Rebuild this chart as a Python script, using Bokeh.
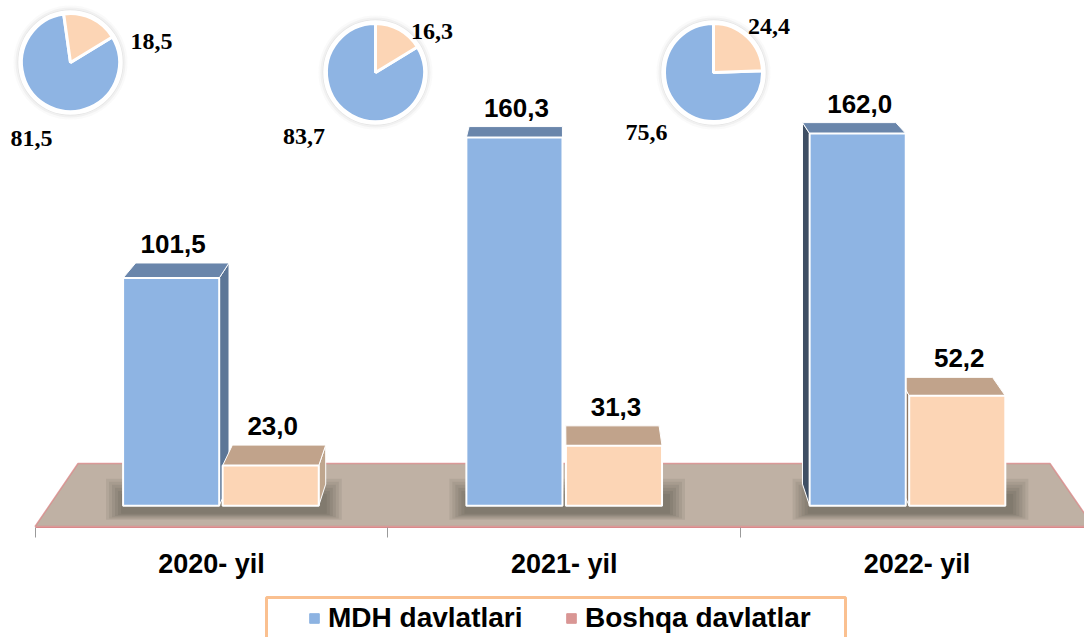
import numpy as np
from bokeh.plotting import figure
from bokeh.layouts import column
from bokeh.models import Range1d, FixedTicker, Legend, LegendItem, ColumnDataSource
from bokeh.core.properties import value
from bokeh.embed import file_html
from bokeh.resources import INLINE

# ---------------- data ----------------
years = ["2020- yil", "2021- yil", "2022- yil"]
series = ["MDH davlatlari", "Boshqa davlatlar"]
mdh = [101.5, 160.3, 162.0]
boshqa = [23.0, 31.3, 52.2]
mdh_share = [81.5, 83.7, 75.6]
boshqa_share = [18.5, 16.3, 24.4]

def fmt(v):
    return f"{v:.1f}".replace(".", ",")

# ---------------- layout / style ----------------
W, H = 1084, 587          # main chart; legend strip below
LEG_H = 50
FRAME_BOTTOM = 527
XPX, X0 = 352.8, 34.6      # px per category, canvas x of first category boundary
YPX, Y0 = 2.455, 541.2     # px per unit, canvas y of 0

def xd(px):
    return (px - X0) / XPX - 0.5

def yd(py):
    return (Y0 - py) / YPX

VPX, VPY = xd(560), yd(-245)       # vanishing point of the 3D view
FLOOR_Y = yd(526)
FLOOR_DEPTH = 0.0817
D0, D1 = 0.027, 0.055
HALF, GAP = 0.285, 0.005

def proj(x, y, t):
    return x + t * (VPX - x), y + t * (VPY - y)

FRONT = ["#8EB4E3", "#FCD5B5"]
TOP = ["#6A86AB", "#C1A38B"]
SIDE_R = ["#5C7697", "#BFA68E"]
SIDE_L = ["#3F4F64", "#8C7664"]
LEGEND_COL = ["#8DB3E2", "#D99694"]
FLOOR_COL = "#BFB1A4"
EDGE_COL = "#D9898A"
LEGEND_BORDER = "#FAC090"

p = figure(width=W, height=H, output_backend="svg", toolbar_location=None,
           x_range=Range1d(xd(0), xd(W)), y_range=Range1d(yd(FRAME_BOTTOM), yd(0)),
           x_axis_location="below", y_axis_location=None,
           min_border_left=0, min_border_right=0, min_border_top=0,
           min_border_bottom=H - FRAME_BOTTOM)
p.xgrid.visible = False
p.ygrid.visible = False
p.outline_line_color = None
p.background_fill_color = "white"
p.border_fill_color = "white"

# ---------------- floor ----------------
fx, fy = [], []
for (x, t) in [(-0.5, 0), (2.5, 0), (2.5, FLOOR_DEPTH), (-0.5, FLOOR_DEPTH)]:
    a, b = proj(x, FLOOR_Y, t)
    fx.append(a); fy.append(b)
p.patch(fx, fy, fill_color=FLOOR_COL, line_color=EDGE_COL, line_width=1.5, line_alpha=0.8)

# ---------------- shadows under bar groups ----------------
for i in range(3):
    lx, by = proj(i - HALF, FLOOR_Y, D0)
    rx, _ = proj(i + HALF, FLOOR_Y, D0)
    for k in range(6):
        p.quad(left=lx - (2 + 3 * k) / XPX, right=rx + (8 + 3 * k) / XPX,
               bottom=by - (8 + 1.2 * k) / YPX, top=by + (12 + 3 * k) / YPX,
               fill_color="#3a3330", fill_alpha=0.09, line_color=None)

# ---------------- 3D bars ----------------
bars = []
for i in range(3):
    for s, vals in enumerate([mdh, boshqa]):
        xl = i - HALF + s * (HALF + GAP)
        xr = xl + HALF - GAP
        bars.append((i, s, xl, xr, vals[i]))
bars.sort(key=lambda b: -abs((b[2] + b[3]) / 2 - VPX))

pxs, pys, pcol, plw = [], [], [], []
def add_poly(pts, col, lw):
    pxs.append([q[0] for q in pts]); pys.append([q[1] for q in pts])
    pcol.append(col); plw.append(lw)

for (i, s, xl, xr, v) in bars:
    cx = (xl + xr) / 2
    if cx < VPX:
        xs_, scol = xr, SIDE_R[s]
    else:
        xs_, scol = xl, SIDE_L[s]
    add_poly([proj(xs_, FLOOR_Y, D0), proj(xs_, v, D0), proj(xs_, v, D1), proj(xs_, FLOOR_Y, D1)], scol, 1)
    add_poly([proj(xl, v, D0), proj(xr, v, D0), proj(xr, v, D1), proj(xl, v, D1)], TOP[s], 1)
    add_poly([proj(xl, FLOOR_Y, D0), proj(xr, FLOOR_Y, D0), proj(xr, v, D0), proj(xl, v, D0)], FRONT[s], 2)

p.patches(xs="xs", ys="ys", fill_color="c", line_color="white", line_width="lw",
          source=ColumnDataSource(dict(xs=pxs, ys=pys, c=pcol, lw=plw)))

# value labels
lx_, ly_, lt_ = [], [], []
for (i, s, xl, xr, v) in bars:
    cx, _ = proj((xl + xr) / 2, v, D0)
    _, ty = proj(xl, v, D1)
    lx_.append(cx + 2 / XPX); ly_.append(ty + 19 / YPX); lt_.append(fmt(v))
p.text(x=lx_, y=ly_, text=lt_, text_font=value("Liberation Sans"), text_font_style="bold",
       text_font_size="26px", text_align="center", text_baseline="middle", text_color="black")

# ---------------- pies ----------------
PIE_C = [(70, 62), (375, 72), (713, 72)]          # canvas px
PIE_R = 49
PIE_START = [-8, 0, 0]                             # clock degrees of the small slice
LBL_OFF_SMALL = [(81, -21), (56.5, -41.5), (55.5, -46)]
LBL_OFF_BIG = [(-39, 75.5), (-71.5, 64), (-67, 59.5)]

for i in range(3):
    cxp, cyp = PIE_C[i]
    x, y = xd(cxp), yd(cyp)
    for k, (r, a) in enumerate([(57, 0.03), (55, 0.05), (53, 0.08)]):
        p.scatter([x], [y], size=2 * r, marker="circle", fill_color="#555555",
                  fill_alpha=a, line_color=None)
    frac = boshqa_share[i] / (boshqa_share[i] + mdh_share[i])
    a0 = PIE_START[i]
    a1 = a0 + 360 * frac
    p.wedge(x=[x], y=[y], radius=PIE_R, radius_units="screen",
            start_angle=np.radians(90 - a1), end_angle=np.radians(90 - a0 - 360),
            direction="clock", fill_color=FRONT[0], line_color="white", line_width=3)
    p.wedge(x=[x], y=[y], radius=PIE_R, radius_units="screen",
            start_angle=np.radians(90 - a0), end_angle=np.radians(90 - a1),
            direction="clock", fill_color=FRONT[1], line_color="white", line_width=3)
    p.scatter([x], [y], size=2 * PIE_R + 3, marker="circle", fill_color=None,
              line_color="white", line_width=3.5)
    sx, sy = LBL_OFF_SMALL[i]
    bx, byy = LBL_OFF_BIG[i]
    p.text(x=[xd(cxp + sx), xd(cxp + bx)], y=[yd(cyp + sy), yd(cyp + byy)],
           text=[fmt(boshqa_share[i]), fmt(mdh_share[i])],
           text_font=value("Liberation Serif"), text_font_style="bold", text_font_size="24px",
           text_align="center", text_baseline="middle", text_color="black")

# ---------------- axis ----------------
ax = p.xaxis[0]
ax.ticker = FixedTicker(ticks=[0, 1, 2], minor_ticks=[-0.5, 0.5, 1.5, 2.5])
ax.major_label_overrides = {i: years[i] for i in range(3)}
ax.bounds = (-0.5, 2.6)
ax.axis_line_color = EDGE_COL
ax.axis_line_width = 1.2
ax.major_tick_line_color = None
ax.major_tick_out = 10
ax.major_tick_in = 0
ax.minor_tick_line_color = "#9A9A9A"
ax.minor_tick_out = 10
ax.minor_tick_in = 0
ax.major_label_standoff = 11
ax.major_label_text_font = "Liberation Sans"
ax.major_label_text_font_style = "bold"
ax.major_label_text_font_size = "27px"
ax.major_label_text_color = "black"

# ---------------- legend strip ----------------
p2 = figure(width=W, height=LEG_H, output_backend="svg", toolbar_location=None,
            x_range=Range1d(0, W), y_range=Range1d(0, LEG_H),
            x_axis_location=None, y_axis_location=None,
            min_border_left=0, min_border_right=0, min_border_top=0, min_border_bottom=0)
p2.xgrid.visible = False
p2.ygrid.visible = False
p2.outline_line_color = None
p2.background_fill_color = "white"
p2.border_fill_color = "white"
# legend frame (its lower edge runs past the bottom of the page, as in the source)
p2.quad(left=266, right=845, bottom=-10, top=LEG_H - 10,
        fill_color="white", line_color=LEGEND_BORDER, line_width=3)
# legend-only renderers: their single point lies outside the visible range
r1 = p2.scatter(x=[-50], y=[-50], marker="square", size=10,
                fill_color=LEGEND_COL[0], line_color=LEGEND_COL[0])
r2 = p2.scatter(x=[-50], y=[-50], marker="square", size=10,
                fill_color=LEGEND_COL[1], line_color=LEGEND_COL[1])
legend = Legend(items=[LegendItem(label=series[0], renderers=[r1]),
                       LegendItem(label=series[1], renderers=[r2])],
                orientation="horizontal", location=(302, 2),
                glyph_width=24, glyph_height=24, label_standoff=2, spacing=0,
                label_width=231, label_height=34, padding=3, margin=0,
                border_line_color=None, background_fill_alpha=0,
                label_text_font="Liberation Sans", label_text_font_style="bold",
                label_text_font_size="28px", label_text_color="black")
p2.add_layout(legend)

open("out.html", "w").write(file_html(column(p, p2, spacing=0), INLINE))
